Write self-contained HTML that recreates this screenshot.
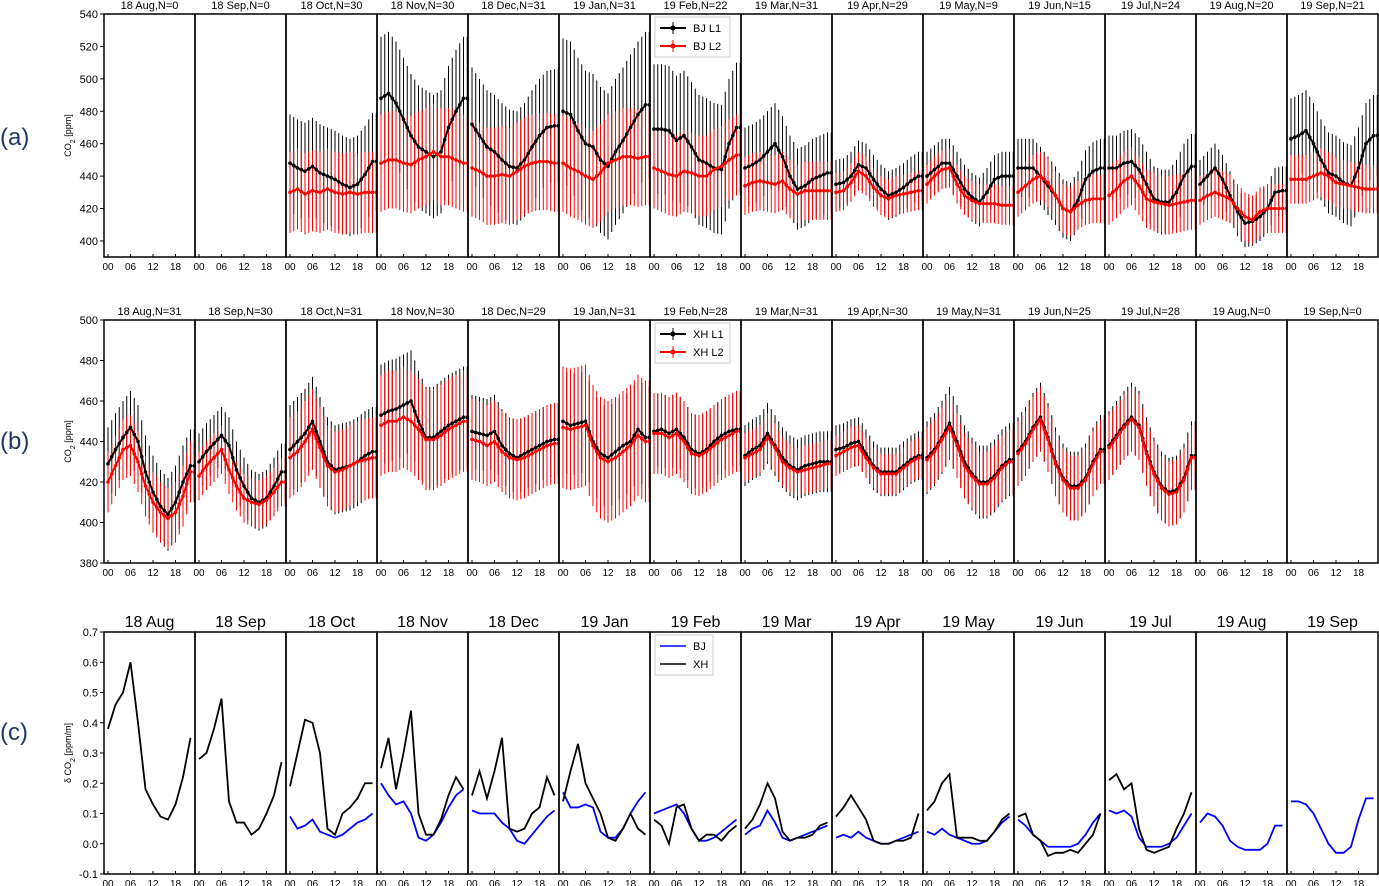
<!DOCTYPE html>
<html><head><meta charset="utf-8"><style>
body{margin:0;background:#fff;}
svg{display:block;font-family:"Liberation Sans","DejaVu Sans",sans-serif;}
</style></head><body>
<svg id="fig" width="1379" height="886" viewBox="0 0 1379 886"></svg>
<script>
const months=["18 Aug","18 Sep","18 Oct","18 Nov","18 Dec","19 Jan","19 Feb","19 Mar","19 Apr","19 May","19 Jun","19 Jul","19 Aug","19 Sep"];
const nBJ=[0,0,30,30,31,31,22,31,29,9,15,24,20,21];
const nXH=[31,30,31,30,29,31,28,31,30,31,25,28,0,0];
const hours=[0,2,4,6,8,10,12,14,16,18,20,22];
// Panel a: BJ
const bjL1=[null,null,
[448,445,443,446,442,440,438,435,433,435,441,449],
[488,491,485,475,465,458,455,452,455,470,480,488],
[472,465,458,455,450,446,445,450,458,465,470,471],
[480,478,468,460,458,450,446,455,462,470,478,484],
[469,469,468,462,465,458,450,448,445,444,460,470],
[445,447,450,455,460,452,440,432,434,438,440,442],
[435,436,440,447,445,438,432,428,430,433,437,440],
[440,444,448,448,440,432,427,424,430,438,440,440],
[445,445,445,440,434,428,420,418,425,438,443,445],
[445,445,448,449,444,435,426,424,424,430,440,446],
[435,440,445,438,428,418,411,412,415,420,430,431],
[463,465,468,460,450,442,440,436,434,445,460,465]];
const bjL2=[null,null,
[430,432,429,431,430,432,430,429,430,429,430,430],
[448,450,450,448,447,450,452,455,452,452,450,448],
[445,443,440,440,441,440,443,446,448,449,449,448],
[448,445,443,440,438,442,448,450,452,452,451,452],
[445,443,441,440,443,442,440,440,444,446,450,453],
[434,436,437,436,435,437,432,429,431,431,431,431],
[430,431,436,443,440,433,428,426,428,429,430,431],
[435,440,444,445,435,428,425,423,423,423,422,422],
[430,434,438,440,436,428,420,418,422,425,426,426],
[428,432,437,440,434,426,424,423,422,423,424,425],
[425,428,430,428,426,420,415,413,418,420,420,420],
[438,438,438,440,442,440,436,435,434,433,432,432]];
const bjL1Std=[0,0,30,38,35,45,40,25,15,15,18,20,15,25];
const bjL2Std=[0,0,25,30,30,30,25,18,12,12,15,18,15,15];
// Panel b: XH
const xhL1=[
[429,436,442,447,440,425,415,408,404,410,420,428],
[430,435,439,443,438,426,418,412,410,412,418,425],
[436,440,444,450,440,430,426,427,428,430,433,435],
[453,455,456,458,460,450,442,442,445,448,450,452],
[445,444,443,445,438,434,432,434,436,438,440,441],
[450,448,449,450,440,434,432,435,438,440,446,442],
[445,446,444,446,442,436,434,436,440,443,445,446],
[433,436,438,444,438,432,428,426,428,429,430,430],
[436,437,439,440,434,428,425,425,425,428,431,433],
[432,436,442,449,440,430,424,420,420,423,428,431],
[435,440,447,452,442,430,422,418,418,422,430,436],
[438,443,448,452,448,435,425,418,415,416,422,433],
null,null];
const xhL2=[
[420,428,436,438,430,418,410,405,402,405,413,425],
[423,428,432,436,426,418,412,410,409,411,415,420],
[432,435,440,446,437,428,425,426,428,430,431,432],
[448,450,450,452,450,446,441,441,443,446,448,450],
[441,440,438,440,435,432,431,432,434,436,438,439],
[447,446,447,448,438,432,430,432,435,438,443,440],
[444,444,442,444,440,434,433,435,438,441,443,445],
[432,434,436,442,437,430,427,425,426,427,428,429],
[433,435,437,438,432,427,424,424,424,427,430,432],
[431,435,441,447,438,428,423,419,419,422,427,430],
[434,439,446,451,441,429,421,417,417,421,429,435],
[437,442,447,451,447,434,424,417,414,415,421,432],
null,null];
const xhL1Std=[18,14,22,25,18,25,18,15,12,18,17,17,0,0];
const xhL2Std=[15,12,20,25,20,30,20,12,10,16,16,16,0,0];
// Panel c: gradient
const dBJ=[null,null,
[0.09,0.05,0.06,0.08,0.04,0.03,0.02,0.03,0.05,0.07,0.08,0.10],
[0.20,0.16,0.13,0.14,0.10,0.02,0.01,0.03,0.07,0.12,0.16,0.18],
[0.11,0.10,0.10,0.10,0.07,0.05,0.01,0.00,0.03,0.06,0.09,0.11],
[0.17,0.12,0.12,0.13,0.12,0.04,0.02,0.02,0.05,0.10,0.14,0.17],
[0.10,0.11,0.12,0.13,0.10,0.05,0.01,0.01,0.02,0.04,0.06,0.08],
[0.03,0.05,0.06,0.11,0.07,0.02,0.01,0.02,0.03,0.04,0.05,0.06],
[0.02,0.03,0.02,0.04,0.02,0.01,0.00,0.00,0.01,0.02,0.03,0.04],
[0.04,0.03,0.05,0.03,0.02,0.01,0.00,0.00,0.01,0.04,0.07,0.09],
[0.08,0.06,0.03,0.01,-0.01,-0.01,-0.01,-0.01,0.00,0.03,0.07,0.10],
[0.11,0.10,0.11,0.09,0.02,-0.01,-0.01,-0.01,0.00,0.02,0.06,0.10],
[0.07,0.10,0.09,0.06,0.01,-0.01,-0.02,-0.02,-0.02,0.00,0.06,0.06],
[0.14,0.14,0.13,0.10,0.05,0.00,-0.03,-0.03,-0.01,0.08,0.15,0.15]];
const dXH=[
[0.38,0.46,0.50,0.60,0.40,0.18,0.13,0.09,0.08,0.13,0.22,0.35],
[0.28,0.30,0.38,0.48,0.14,0.07,0.07,0.03,0.05,0.10,0.16,0.27],
[0.19,0.30,0.41,0.40,0.30,0.05,0.03,0.10,0.12,0.15,0.20,0.20],
[0.25,0.35,0.18,0.30,0.44,0.10,0.03,0.03,0.08,0.16,0.22,0.18],
[0.16,0.24,0.15,0.24,0.35,0.05,0.04,0.05,0.10,0.12,0.22,0.16],
[0.14,0.24,0.33,0.20,0.15,0.10,0.02,0.01,0.05,0.10,0.05,0.03],
[0.08,0.06,0.00,0.12,0.13,0.05,0.01,0.03,0.03,0.01,0.04,0.06],
[0.05,0.08,0.13,0.20,0.15,0.04,0.01,0.02,0.02,0.03,0.06,0.07],
[0.09,0.12,0.16,0.12,0.08,0.01,0.00,0.00,0.01,0.01,0.02,0.10],
[0.11,0.14,0.20,0.23,0.02,0.02,0.02,0.01,0.01,0.04,0.08,0.10],
[0.09,0.10,0.03,0.01,-0.04,-0.03,-0.03,-0.02,-0.03,0.00,0.03,0.10],
[0.21,0.23,0.18,0.20,0.05,-0.02,-0.03,-0.02,-0.01,0.05,0.10,0.17],
null,null];
const ticksA=[400,420,440,460,480,500,520,540];
const ticksB=[380,400,420,440,460,480,500];
const ticksC=[-0.1,0.0,0.1,0.2,0.3,0.4,0.5,0.6,0.7];
const xTickHours=[0,6,12,18];

const NS="http://www.w3.org/2000/svg";
const svg=document.getElementById('fig');
function mk(tag,attrs,parent){const e=document.createElementNS(NS,tag);for(const k in attrs)e.setAttribute(k,attrs[k]);(parent||svg).appendChild(e);return e;}
const X0=104,SW=91;
function xOf(m,h){return X0+m*SW+4+h*3.75;}
function interp(arr,h){const i=Math.floor(h/2),f=(h%2)/2;const a=arr[i],b=i+1<arr.length?arr[i+1]:arr[i];return a+(b-a)*f;}

function drawPanel(cfg){
  const g=mk('g',{});
  
  
  const y=v=>cfg.top+(cfg.max-v)/(cfg.max-cfg.min)*(cfg.bot-cfg.top);
  // y ticks
  cfg.ticks.forEach(t=>{
    const ty=y(t);
    const l=mk('line',{x1:X0-4,x2:X0,y1:ty,y2:ty,stroke:'#000','stroke-width':1},g);
    
    const tx=mk('text',{x:X0-6,y:ty+4,'text-anchor':'end','font-size':11},g);
    
    tx.textContent=cfg.fmt(t);
  });
  const yt=mk('text',{x:0,y:0,'font-size':9,'text-anchor':'middle',transform:`translate(71,${(cfg.top+cfg.bot)/2}) rotate(-90)`},g);
  
  yt.innerHTML=cfg.ytitle;
  for(let m=0;m<14;m++){
    const sx=X0+m*SW;
    const ttl=mk('text',{x:sx+SW/2,y:cfg.top-5,'text-anchor':'middle','font-size':cfg.tfs},g);
    
    ttl.textContent=cfg.title(m);
    xTickHours.forEach(h=>{
      const t=mk('text',{x:xOf(m,h),y:cfg.bot+13,'text-anchor':'middle','font-size':10},g);
      
      t.textContent=String(h).padStart(2,'0');
      const tk=mk('line',{x1:xOf(m,h),x2:xOf(m,h),y1:cfg.bot,y2:cfg.bot-3,stroke:'#000'},g);
      
    });
    cfg.series.forEach(s=>{
      const arr=s.data[m];if(!arr)return;
      if(s.std){
        for(let h=0;h<24;h++){
          const v=interp(arr,h),sd=s.std[m];
          const b=mk('line',{x1:xOf(m,h),x2:xOf(m,h),y1:y(v-sd),y2:y(v+sd),stroke:s.color,'stroke-width':1},g);
          
        }
      }
    });
    cfg.series.forEach(s=>{
      const arr=s.data[m];if(!arr)return;
      const pts=arr.map((v,i)=>xOf(m,hours[i])+','+y(v)).join(' ');
      const pl=mk('polyline',{points:pts,fill:'none',stroke:s.color,'stroke-width':s.std?2:1.8},g);
      
      if(s.std){
        for(let h=0;h<24;h++){
          const c=mk('circle',{cx:xOf(m,h),cy:y(interp(arr,h)),r:1.8,fill:s.color},g);
          
        }
      }
    });
    const r=mk('rect',{x:sx,y:cfg.top,width:SW,height:cfg.bot-cfg.top,fill:'none',stroke:'#000','stroke-width':1.5},g);
    
  }
  // legend
  const lg=mk('g',{},g);
  
  const lh=cfg.series.length*18+4;
  mk('rect',{x:655,y:cfg.top+3,width:cfg.legW,height:lh,fill:'#fff',stroke:'#ccc'},lg);
  cfg.series.forEach((s,i)=>{
    const ly=cfg.top+14+i*18;
    mk('line',{x1:660,x2:686,y1:ly,y2:ly,stroke:s.color,'stroke-width':s.std?2:1.5},lg);
    if(s.std){mk('circle',{cx:673,cy:ly,r:2.5,fill:s.color},lg);mk('line',{x1:673,x2:673,y1:ly-6,y2:ly+6,stroke:s.color},lg);}
    const t=mk('text',{x:693,y:ly+4,'font-size':11},lg);
    
    t.textContent=s.label;
  });
}
drawPanel({name:'panel-a-bj',top:14,bot:257,min:390.1,max:540,ticks:ticksA,fmt:t=>t,tfs:11,legW:75,
  ytitle:'CO<tspan baseline-shift="sub" font-size="7">2</tspan> [ppm]',
  title:m=>months[m]+',N='+nBJ[m],
  series:[{data:bjL1,std:bjL1Std,color:'#000',label:'BJ L1'},{data:bjL2,std:bjL2Std,color:'#ff0000',label:'BJ L2'}]});
drawPanel({name:'panel-b-xh',top:320,bot:563,min:380,max:500,ticks:ticksB,fmt:t=>t,tfs:11,legW:75,
  ytitle:'CO<tspan baseline-shift="sub" font-size="7">2</tspan> [ppm]',
  title:m=>months[m]+',N='+nXH[m],
  series:[{data:xhL1,std:xhL1Std,color:'#000',label:'XH L1'},{data:xhL2,std:xhL2Std,color:'#ff0000',label:'XH L2'}]});
drawPanel({name:'panel-c-gradient',top:632,bot:874,min:-0.1,max:0.7,ticks:ticksC,fmt:t=>t.toFixed(1),tfs:16,legW:58,
  ytitle:'δ CO<tspan baseline-shift="sub" font-size="7">2</tspan> [ppm/m]',
  title:m=>months[m],
  series:[{data:dBJ,std:null,color:'#0000ff',label:'BJ'},{data:dXH,std:null,color:'#000',label:'XH'}]});
[['(a)',137],['(b)',441],['(c)',732]].forEach(([s,yy])=>{
  const t=mk('text',{x:0,y:yy+8,'font-size':24,fill:'#1f3864'});
  
  t.textContent=s;
});
</script>
</body></html>
